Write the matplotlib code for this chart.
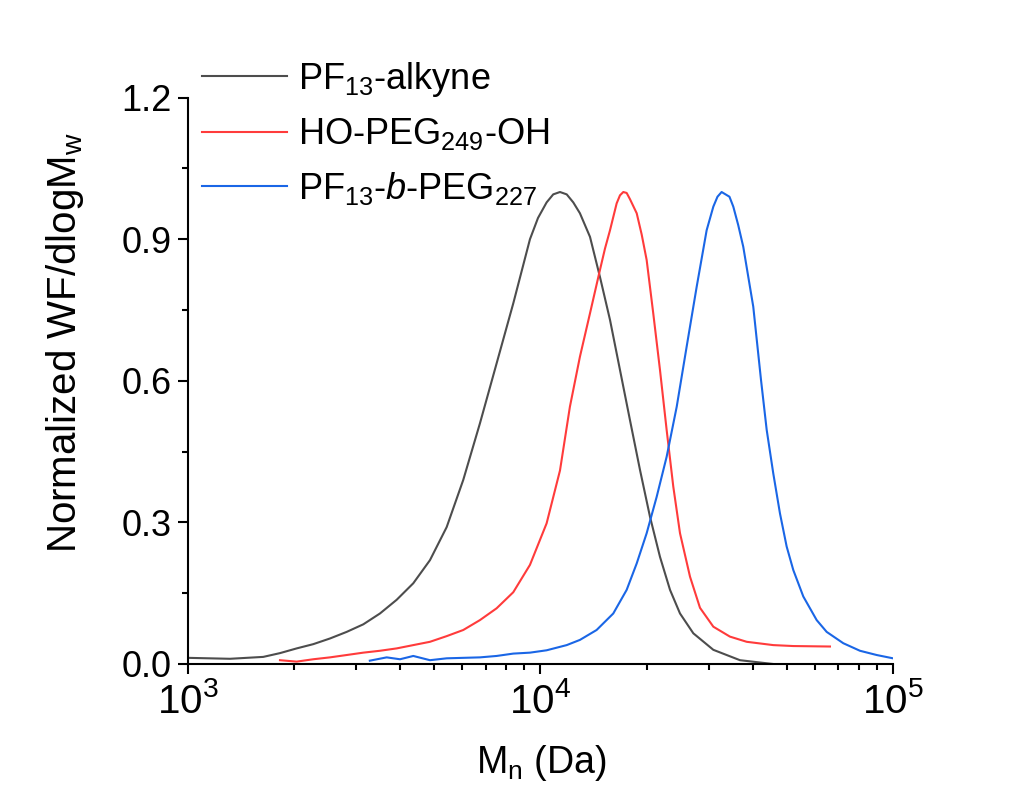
import numpy as np
import matplotlib
matplotlib.use("Agg")
import matplotlib.pyplot as plt
from matplotlib.ticker import LogLocator, MultipleLocator, FixedLocator, FixedFormatter

# PF13-alkyne
mn_pf = [1000, 1316, 1635, 1824, 2034, 2267, 2528, 2820, 3143, 3505, 3909, 4357, 4859,
         5419, 6039, 6735, 7510, 8372, 9337, 9840, 10410, 10870, 11360, 11870, 12390, 12940,
         13820, 14750, 15750, 16810, 17940, 19160, 20450, 21830, 23310, 24880, 27140,
         30930, 36810, 45650]
wf_pf = [0.013, 0.011, 0.015, 0.023, 0.033, 0.042, 0.054, 0.068, 0.084, 0.107, 0.136, 0.171, 0.22,
         0.29, 0.39, 0.51, 0.637, 0.764, 0.90, 0.945, 0.978, 0.995, 1.0, 0.995, 0.978, 0.955,
         0.905, 0.82, 0.729, 0.623, 0.517, 0.411, 0.312, 0.227, 0.157, 0.107, 0.065,
         0.030, 0.008, 0.0]

# HO-PEG249-OH
mn_peg = [1824, 2034, 2267, 2528, 2820, 3143, 3505, 3909, 4357, 4859, 5419, 6039, 6735,
          7510, 8372, 9337, 10410, 11360, 12120, 12940, 13820, 14750, 15240, 15750, 16450,
          16810, 17180, 17560, 17940, 18750, 19370, 20010, 20890, 21830, 22800, 23810,
          24880, 26560, 28350, 30930, 34470, 38460, 45750, 52150, 66260]
wf_peg = [0.008, 0.005, 0.010, 0.014, 0.019, 0.024, 0.028, 0.033, 0.040, 0.047, 0.059, 0.072, 0.093,
          0.118, 0.152, 0.21, 0.298, 0.41, 0.545, 0.651, 0.743, 0.835, 0.88, 0.919, 0.976,
          0.993, 1.0, 0.998, 0.985, 0.955, 0.91, 0.856, 0.743, 0.623, 0.496, 0.376,
          0.277, 0.185, 0.119, 0.079, 0.058, 0.047, 0.040, 0.038, 0.037]

# PF13-b-PEG227
mn_blk = [3280, 3662, 3995, 4357, 4859, 5419, 6039, 6735, 7510, 8372, 9337, 10410, 11870,
          12940, 14430, 16090, 17560, 18750, 20010, 21360, 22800, 24350, 25980, 27740,
          29610, 30930, 31780, 32650, 34370, 35240, 36390, 37610, 40150, 42230, 43830,
          45750, 47800, 49930, 52150, 55670, 60750, 64850, 72280, 80600, 89900, 100000]
wf_blk = [0.007, 0.014, 0.010, 0.017, 0.008, 0.012, 0.013, 0.014, 0.017, 0.022, 0.024, 0.029, 0.040,
          0.051, 0.072, 0.107, 0.157, 0.213, 0.277, 0.354, 0.439, 0.545, 0.672, 0.799,
          0.919, 0.969, 0.99, 1.0, 0.99, 0.969, 0.93, 0.884, 0.757, 0.602, 0.496,
          0.404, 0.319, 0.249, 0.199, 0.143, 0.093, 0.068, 0.044, 0.028, 0.019, 0.012]

plt.rcParams["font.family"] = "Liberation Sans"
plt.rcParams["mathtext.fontset"] = "custom"
plt.rcParams["mathtext.rm"] = "Liberation Sans"
plt.rcParams["mathtext.it"] = "Liberation Sans:italic"
plt.rcParams["mathtext.bf"] = "Liberation Sans:bold"

fig = plt.figure(figsize=(10.21, 7.93), dpi=100)
ax = fig.add_axes([0.1841, 0.1627, 0.6905, 0.7142])

ax.plot(mn_pf, wf_pf, color="#4d4d4d", lw=1.5, label=r"PF$\mathregular{_{13}}$-alkyne")
ax.plot(mn_peg, wf_peg, color="#ff3b3b", lw=1.5, label=r"HO-PEG$\mathregular{_{249}}$-OH")
ax.plot(mn_blk, wf_blk, color="#1a66e6", lw=1.5,
        label=r"PF$\mathregular{_{13}}$-$\mathit{b}$-PEG$\mathregular{_{227}}$")

ax.set_xscale("log")
ax.set_xlim(1000, 100000)
ax.set_ylim(0, 1.2)

ax.xaxis.set_major_locator(FixedLocator([1e3, 1e4, 1e5]))
ax.xaxis.set_major_formatter(FixedFormatter([r"$\mathregular{10^{3}}$", r"$\mathregular{10^{4}}$", r"$\mathregular{10^{5}}$"]))
ax.xaxis.set_minor_locator(LogLocator(base=10, subs=np.arange(2, 10)))
ax.xaxis.set_minor_formatter(FixedFormatter([]))
ax.yaxis.set_minor_locator(MultipleLocator(0.15))
ax.set_yticks([0, 0.3, 0.6, 0.9, 1.2])
ax.set_yticklabels(["0.0", "0.3", "0.6", "0.9", "1.2"])

for s in ["top", "right"]:
    ax.spines[s].set_visible(False)
for s in ["left", "bottom"]:
    ax.spines[s].set_linewidth(1.5)

ax.tick_params(axis="both", which="major", direction="out", length=7, width=1.5)
ax.tick_params(axis="both", which="minor", direction="out", length=4, width=1.5)
ax.tick_params(axis="y", labelsize=26, pad=5)
ax.tick_params(axis="x", labelsize=29, pad=6)

ax.set_xlabel(r"M$\mathregular{_{n}}$ (Da)", fontsize=27)
ax.set_ylabel(r"Normalized WF/dlogM$\mathregular{_{w}}$", fontsize=29)
ax.xaxis.set_label_coords(0.5007, -0.14)
ax.yaxis.set_label_coords(-0.145, 0.568)

ax.legend(loc="upper left", bbox_to_anchor=(0.0, 1.092), frameon=False, fontsize=26,
          handlelength=2.35, handletextpad=0.3, labelspacing=0.48, borderaxespad=0.0)

fig.savefig("out.png", dpi=100)
